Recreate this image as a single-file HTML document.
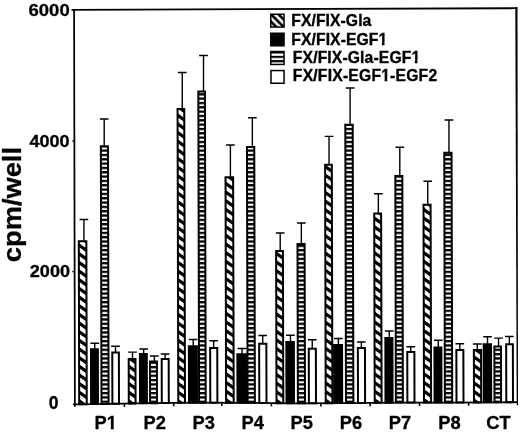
<!DOCTYPE html>
<html><head><meta charset="utf-8"><title>cpm/well</title>
<style>
html,body{margin:0;padding:0;background:#fff;}
svg{display:block;}
text{font-family:"Liberation Sans",Arial,Helvetica,sans-serif;font-weight:bold;fill:#000;}
</style></head><body>
<svg width="520" height="432" viewBox="0 0 520 432">
<defs>
<pattern id="hat" patternUnits="userSpaceOnUse" width="20" height="8.66" patternTransform="translate(0,-9.6) skewY(35)">
<rect width="20" height="8.66" fill="#fff"/>
<rect y="-2.0" width="20" height="4.0" fill="#000"/>
<rect y="6.66" width="20" height="4.0" fill="#000"/>
</pattern>
<pattern id="str" patternUnits="userSpaceOnUse" width="10" height="4.33" patternTransform="translate(0,2.25)">
<rect width="10" height="4.33" fill="#fff"/>
<rect width="10" height="2.3" fill="#000"/>
</pattern>
<pattern id="hat2" patternUnits="userSpaceOnUse" width="7.4" height="7.4" patternTransform="translate(0,2.25)">
<rect width="7.4" height="7.4" fill="#fff"/>
<path d="M-2,-2 L10,10 M-2,-9.4 L10,2.6 M-2,5.4 L10,17.4" stroke="#000" stroke-width="2.7"/>
</pattern>
<pattern id="str2" patternUnits="userSpaceOnUse" width="10" height="4.33" patternTransform="translate(0,3.85)">
<rect width="10" height="4.33" fill="#fff"/>
<rect width="10" height="2.1" fill="#000"/>
</pattern>
</defs>
<rect width="520" height="432" fill="#fff"/>

<g transform="matrix(1,0,0.0025,1,-1.01,0)">
<rect x="79.20" y="241.20" width="7.55" height="163.01" fill="url(#hat)" stroke="#000" stroke-width="2.0"/>
<rect x="91.10" y="349.30" width="6.90" height="54.81" fill="#000" stroke="#000" stroke-width="2.0"/>
<rect x="101.50" y="146.20" width="7.10" height="257.74" fill="url(#str)" stroke="#000" stroke-width="2.0"/>
<rect x="112.40" y="352.50" width="6.60" height="51.26" fill="#fff" stroke="#000" stroke-width="2.0"/>
<rect x="128.80" y="359.00" width="6.80" height="44.47" fill="url(#hat)" stroke="#000" stroke-width="2.0"/>
<rect x="140.00" y="354.00" width="6.90" height="49.28" fill="#000" stroke="#000" stroke-width="2.0"/>
<rect x="150.10" y="361.40" width="6.90" height="41.74" fill="url(#str)" stroke="#000" stroke-width="2.0"/>
<rect x="161.80" y="359.00" width="7.00" height="44.03" fill="#fff" stroke="#000" stroke-width="2.0"/>
<rect x="178.30" y="109.00" width="6.70" height="293.86" fill="url(#hat)" stroke="#000" stroke-width="2.0"/>
<rect x="189.00" y="346.25" width="8.00" height="56.50" fill="#000" stroke="#000" stroke-width="2.0"/>
<rect x="199.10" y="91.50" width="6.60" height="311.21" fill="url(#str)" stroke="#000" stroke-width="2.0"/>
<rect x="210.30" y="347.90" width="7.10" height="54.83" fill="#fff" stroke="#000" stroke-width="2.0"/>
<rect x="226.10" y="177.25" width="7.60" height="225.52" fill="url(#hat)" stroke="#000" stroke-width="2.0"/>
<rect x="237.50" y="354.25" width="8.50" height="48.54" fill="#000" stroke="#000" stroke-width="2.0"/>
<rect x="247.60" y="147.10" width="7.30" height="255.75" fill="url(#str)" stroke="#000" stroke-width="2.0"/>
<rect x="259.30" y="343.80" width="7.20" height="59.18" fill="#fff" stroke="#000" stroke-width="2.0"/>
<rect x="276.50" y="251.00" width="6.80" height="152.15" fill="url(#hat)" stroke="#000" stroke-width="2.0"/>
<rect x="286.50" y="342.00" width="7.50" height="61.26" fill="#000" stroke="#000" stroke-width="2.0"/>
<rect x="297.90" y="244.00" width="7.10" height="159.27" fill="url(#str)" stroke="#000" stroke-width="2.0"/>
<rect x="308.90" y="348.75" width="7.10" height="54.48" fill="#fff" stroke="#000" stroke-width="2.0"/>
<rect x="325.70" y="164.75" width="6.70" height="238.41" fill="url(#hat)" stroke="#000" stroke-width="2.0"/>
<rect x="334.20" y="345.00" width="8.00" height="58.12" fill="#000" stroke="#000" stroke-width="2.0"/>
<rect x="346.00" y="124.75" width="7.40" height="278.29" fill="url(#str)" stroke="#000" stroke-width="2.0"/>
<rect x="358.00" y="348.00" width="7.10" height="54.92" fill="#fff" stroke="#000" stroke-width="2.0"/>
<rect x="374.70" y="213.50" width="6.90" height="189.26" fill="url(#hat)" stroke="#000" stroke-width="2.0"/>
<rect x="385.50" y="338.00" width="7.10" height="64.65" fill="#000" stroke="#000" stroke-width="2.0"/>
<rect x="395.90" y="176.00" width="7.00" height="226.60" fill="url(#str)" stroke="#000" stroke-width="2.0"/>
<rect x="407.40" y="351.90" width="7.10" height="50.70" fill="#fff" stroke="#000" stroke-width="2.0"/>
<rect x="424.00" y="204.75" width="7.10" height="197.85" fill="url(#hat)" stroke="#000" stroke-width="2.0"/>
<rect x="434.60" y="347.50" width="6.90" height="55.10" fill="#000" stroke="#000" stroke-width="2.0"/>
<rect x="444.90" y="152.75" width="7.30" height="249.82" fill="url(#str)" stroke="#000" stroke-width="2.0"/>
<rect x="456.50" y="350.00" width="7.00" height="52.50" fill="#fff" stroke="#000" stroke-width="2.0"/>
<rect x="474.00" y="350.00" width="7.20" height="52.40" fill="url(#hat)" stroke="#000" stroke-width="2.0"/>
<rect x="483.80" y="344.20" width="7.40" height="58.14" fill="#000" stroke="#000" stroke-width="2.0"/>
<rect x="494.50" y="346.60" width="6.60" height="55.68" fill="url(#str)" stroke="#000" stroke-width="2.0"/>
<rect x="506.30" y="344.20" width="6.70" height="58.03" fill="#fff" stroke="#000" stroke-width="2.0"/>
</g>
<g stroke="#000" stroke-width="1.4" fill="none">
<path d="M83.92,240.70 V219.50 M79.58,219.50 H88.27"/>
<path d="M94.75,348.80 V343.20 M90.40,343.20 H99.10"/>
<path d="M104.20,145.70 V119.00 M99.85,119.00 H108.55"/>
<path d="M115.50,352.00 V346.30 M111.15,346.30 H119.85"/>
<path d="M132.50,358.50 V352.10 M128.15,352.10 H136.85"/>
<path d="M143.65,353.50 V349.00 M139.30,349.00 H148.00"/>
<path d="M154.35,360.90 V356.00 M150.00,356.00 H158.70"/>
<path d="M165.10,358.50 V354.00 M160.75,354.00 H169.45"/>
<path d="M182.25,108.50 V72.50 M177.90,72.50 H186.60"/>
<path d="M193.20,345.75 V339.50 M188.85,339.50 H197.55"/>
<path d="M203.50,91.00 V55.50 M199.15,55.50 H207.85"/>
<path d="M213.65,347.40 V340.80 M209.30,340.80 H218.00"/>
<path d="M230.40,176.75 V145.00 M226.05,145.00 H234.75"/>
<path d="M241.95,353.75 V348.50 M237.60,348.50 H246.30"/>
<path d="M252.35,146.60 V117.75 M248.00,117.75 H256.70"/>
<path d="M262.70,343.30 V335.50 M258.35,335.50 H267.05"/>
<path d="M280.20,250.50 V233.00 M275.85,233.00 H284.55"/>
<path d="M290.45,341.50 V335.25 M286.10,335.25 H294.80"/>
<path d="M301.35,243.50 V223.00 M297.00,223.00 H305.70"/>
<path d="M312.25,348.25 V339.75 M307.90,339.75 H316.60"/>
<path d="M329.05,164.25 V136.40 M324.70,136.40 H333.40"/>
<path d="M338.40,344.50 V338.50 M334.05,338.50 H342.75"/>
<path d="M350.10,124.25 V88.00 M345.75,88.00 H354.45"/>
<path d="M361.35,347.50 V342.00 M357.00,342.00 H365.70"/>
<path d="M378.35,213.00 V193.75 M374.00,193.75 H382.70"/>
<path d="M389.25,337.50 V331.00 M384.90,331.00 H393.60"/>
<path d="M399.80,175.50 V147.25 M395.45,147.25 H404.15"/>
<path d="M410.75,351.40 V346.80 M406.40,346.80 H415.10"/>
<path d="M427.75,204.25 V181.25 M423.40,181.25 H432.10"/>
<path d="M438.25,347.00 V340.25 M433.90,340.25 H442.60"/>
<path d="M448.95,152.25 V120.00 M444.60,120.00 H453.30"/>
<path d="M459.80,349.50 V343.80 M455.45,343.80 H464.15"/>
<path d="M477.30,349.50 V344.00 M472.95,344.00 H481.65"/>
<path d="M487.50,343.70 V336.80 M483.15,336.80 H491.85"/>
<path d="M498.55,346.10 V338.10 M494.20,338.10 H502.90"/>
<path d="M509.35,343.70 V336.50 M505.00,336.50 H513.70"/>
</g>
<g fill="none" stroke="#000">
<path d="M74.1,9 L74.9,406.8" stroke-width="1.75"/>
<path d="M71.5,9.8 L517.4,8.2" stroke-width="1.8"/>
<path d="M515.3,7.3 L517.5,7.3 L518.0,405.2 L516.7,405.2 Z" fill="#000" stroke="none"/>
<path d="M73.0,404.30 L96.0,404.10 L148.0,403.20 L198.0,402.70 L246.0,402.80 L294.0,403.30 L344.0,403.10 L394.0,402.60 L444.0,402.60 L494.0,402.30 L518.0,402.20" stroke-width="1.8" stroke-linejoin="round"/>
<path d="M72.3,141.10 H75" stroke-width="1.3"/>
<path d="M72.3,271.60 H75" stroke-width="1.3"/>
<path d="M124.40,403.61 V406.91" stroke-width="1.6"/>
<path d="M173.70,402.94 V406.24" stroke-width="1.6"/>
<path d="M221.80,402.75 V406.05" stroke-width="1.6"/>
<path d="M271.40,403.06 V406.36" stroke-width="1.6"/>
<path d="M320.90,403.19 V406.49" stroke-width="1.6"/>
<path d="M370.10,402.84 V406.14" stroke-width="1.6"/>
<path d="M419.50,402.60 V405.90" stroke-width="1.6"/>
<path d="M468.60,402.45 V405.75" stroke-width="1.6"/>
</g>
<text x="69.7" y="15.6" font-size="17.4" text-anchor="end" textLength="41.2" lengthAdjust="spacingAndGlyphs" stroke="#000" stroke-width="0.3">6000</text>
<text x="69.6" y="146.6" font-size="17.4" text-anchor="end" textLength="40.2" lengthAdjust="spacingAndGlyphs" stroke="#000" stroke-width="0.3">4000</text>
<text x="70.0" y="277.0" font-size="17.4" text-anchor="end" textLength="40.2" lengthAdjust="spacingAndGlyphs" stroke="#000" stroke-width="0.3">2000</text>
<text x="58.5" y="408.7" font-size="17.5" text-anchor="end" stroke="#000" stroke-width="0.3">0</text>
<text x="94.56" y="429.4" font-size="18.3" stroke="#000" stroke-width="0.3">P1</text>
<text x="143.46" y="429.4" font-size="18.3" stroke="#000" stroke-width="0.3">P2</text>
<text x="192.56" y="429.4" font-size="18.3" stroke="#000" stroke-width="0.3">P3</text>
<text x="241.46" y="429.4" font-size="18.3" stroke="#000" stroke-width="0.3">P4</text>
<text x="290.56" y="429.4" font-size="18.3" stroke="#000" stroke-width="0.3">P5</text>
<text x="339.76" y="429.4" font-size="18.3" stroke="#000" stroke-width="0.3">P6</text>
<text x="388.86" y="429.4" font-size="18.3" stroke="#000" stroke-width="0.3">P7</text>
<text x="438.26" y="429.4" font-size="18.3" stroke="#000" stroke-width="0.3">P8</text>
<text x="486.35" y="429.4" font-size="18.3" stroke="#000" stroke-width="0.3">CT</text>
<text transform="translate(21.4,262.2) rotate(-90)" font-size="26.5" textLength="115.2" lengthAdjust="spacingAndGlyphs" stroke="#000" stroke-width="0.3">cpm/well</text>
<g stroke="#000" stroke-width="1.5">
<rect x="270.75" y="14.25" width="13.3" height="12.8" fill="url(#hat2)"/>
<rect x="270.75" y="33.25" width="13.3" height="12.5" fill="#000"/>
<rect x="270.75" y="51.55" width="13.3" height="12.9" fill="url(#str2)"/>
<rect x="271.0" y="70.55" width="13.05" height="12.7" fill="#fff"/>
</g>
<text x="291.30" y="26.0" font-size="15.7" stroke="#000" stroke-width="0.35" textLength="80.0">FX/FIX-Gla</text>
<text x="291.30" y="44.5" font-size="15.7" stroke="#000" stroke-width="0.35" textLength="95.9">FX/FIX-EGF1</text>
<text x="292.85" y="62.6" font-size="15.7" stroke="#000" stroke-width="0.35" textLength="127.3">FX/FIX-Gla-EGF1</text>
<text x="292.85" y="81.4" font-size="15.7" stroke="#000" stroke-width="0.35" textLength="144.3">FX/FIX-EGF1-EGF2</text>
<rect x="107.00" y="426.73" width="3.77" height="4.47" fill="#fff"/>
<rect x="113.78" y="426.73" width="3.54" height="4.47" fill="#fff"/>
<rect x="378.55" y="42.10" width="3.33" height="4.20" fill="#fff"/>
<rect x="384.53" y="42.10" width="3.13" height="4.20" fill="#fff"/>
<rect x="411.50" y="60.20" width="3.33" height="4.20" fill="#fff"/>
<rect x="417.48" y="60.20" width="3.13" height="4.20" fill="#fff"/>
<rect x="381.27" y="79.00" width="3.33" height="4.20" fill="#fff"/>
<rect x="387.25" y="79.00" width="3.13" height="4.20" fill="#fff"/>
</svg></body></html>
